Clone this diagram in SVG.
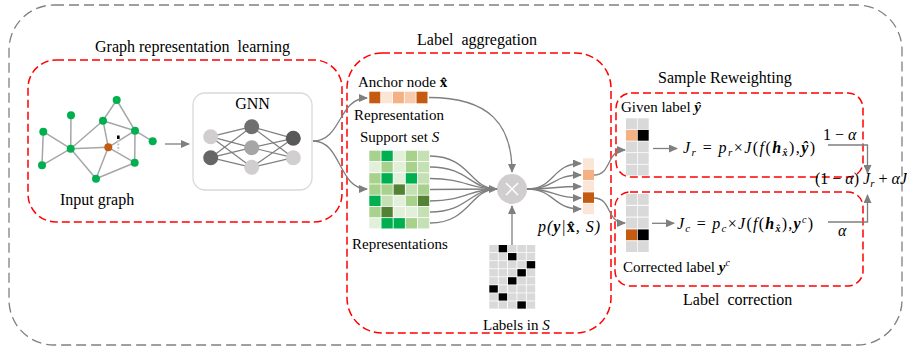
<svg xmlns="http://www.w3.org/2000/svg" width="907" height="350" viewBox="0 0 907 350">
<defs>
<style>
text{font-family:"Liberation Serif","DejaVu Serif",serif;fill:#000}
.t16{font-size:16px}
.t15{font-size:15px}
.m{font-style:italic}
.b{font-weight:bold}
.red{fill:none;stroke:#ff0000;stroke-width:1.5;stroke-dasharray:8 4}
.outer{fill:none;stroke:#808080;stroke-width:1.3;stroke-dasharray:10 5}
.ge{stroke:#a6a6a6;stroke-width:1.5}
.gn{fill:#00b050}
.nn{stroke:#7f7f7f;stroke-width:1.2}
.c{fill:none;stroke:#7f7f7f;stroke-width:1.3}
.gc{fill:#d9d9d9}
</style>
<marker id="ah" markerUnits="userSpaceOnUse" markerWidth="9" markerHeight="8" refX="8" refY="4" orient="auto">
<path d="M0,0 L9,4 L0,8 z" fill="#7f7f7f"/>
</marker>
</defs>

<rect id="outer" class="outer" x="9" y="5" width="893" height="340" rx="45"/>

<g id="graph-box">
<rect class="red" x="28" y="60" width="314" height="162" rx="28"/>
<text class="t16" x="95" y="52" xml:space="preserve">Graph representation  learning</text>
</g>

<g id="input-graph">
<g class="ge">
<line x1="116.7" y1="100" x2="103" y2="120.7"/>
<line x1="116.7" y1="100" x2="135" y2="130.7"/>
<line x1="71" y1="115.3" x2="70.7" y2="148.7"/>
<line x1="43.3" y1="131.7" x2="70.7" y2="148.7"/>
<line x1="43.3" y1="131.7" x2="42" y2="165.3"/>
<line x1="42" y1="165.3" x2="70.7" y2="148.7"/>
<line x1="70.7" y1="148.7" x2="103" y2="120.7"/>
<line x1="70.7" y1="148.7" x2="108.3" y2="147.3"/>
<line x1="70.7" y1="148.7" x2="96" y2="178.7"/>
<line x1="103" y1="120.7" x2="108.3" y2="147.3"/>
<line x1="103" y1="120.7" x2="135" y2="130.7"/>
<line x1="108.3" y1="147.3" x2="135" y2="130.7"/>
<line x1="135" y1="130.7" x2="152.7" y2="141.3"/>
<line x1="135" y1="130.7" x2="134.7" y2="162.7"/>
<line x1="108.3" y1="147.3" x2="134.7" y2="162.7"/>
<line x1="108.3" y1="147.3" x2="96" y2="178.7"/>
<line x1="134.7" y1="162.7" x2="96" y2="178.7"/>
</g>
<line x1="118.3" y1="140" x2="118.3" y2="151" stroke="#c8c8c8" stroke-width="2" stroke-dasharray="2 1.5"/>
<rect x="117" y="135.5" width="2.6" height="3.5" fill="#000"/>
<circle class="gn" cx="116.7" cy="100" r="4"/>
<circle class="gn" cx="71" cy="115.3" r="4"/>
<circle class="gn" cx="103" cy="120.7" r="4"/>
<circle class="gn" cx="43.3" cy="131.7" r="4"/>
<circle class="gn" cx="135" cy="130.7" r="4"/>
<circle class="gn" cx="152.7" cy="141.3" r="4"/>
<circle class="gn" cx="70.7" cy="148.7" r="4"/>
<circle cx="108.3" cy="147.3" r="4" fill="#c55a11"/>
<circle class="gn" cx="42" cy="165.3" r="4"/>
<circle class="gn" cx="134.7" cy="162.7" r="4"/>
<circle class="gn" cx="96" cy="178.7" r="4"/>
<text class="t16" x="60" y="205">Input graph</text>
</g>

<g id="gnn">
<rect x="193" y="93" width="119" height="97" rx="12" fill="#fff" stroke="#d9d9d9" stroke-width="1.3"/>
<text class="t16" x="252.5" y="109" text-anchor="middle">GNN</text>
<g class="nn">
<line x1="210.7" y1="136.7" x2="251.7" y2="126.7"/>
<line x1="210.7" y1="136.7" x2="251.7" y2="147.7"/>
<line x1="210.7" y1="136.7" x2="251.7" y2="167.3"/>
<line x1="210.7" y1="157.7" x2="251.7" y2="126.7"/>
<line x1="210.7" y1="157.7" x2="251.7" y2="147.7"/>
<line x1="210.7" y1="157.7" x2="251.7" y2="167.3"/>
<line x1="251.7" y1="126.7" x2="293.3" y2="138.3"/>
<line x1="251.7" y1="126.7" x2="293.3" y2="157.7"/>
<line x1="251.7" y1="147.7" x2="293.3" y2="138.3"/>
<line x1="251.7" y1="147.7" x2="293.3" y2="157.7"/>
<line x1="251.7" y1="167.3" x2="293.3" y2="138.3"/>
<line x1="251.7" y1="167.3" x2="293.3" y2="157.7"/>
</g>
<circle cx="210.7" cy="136.7" r="7.5" fill="#d0cece"/>
<circle cx="210.7" cy="157.7" r="7.5" fill="#666666"/>
<circle cx="251.7" cy="126.7" r="7.5" fill="#6f6f6f"/>
<circle cx="251.7" cy="147.7" r="7.5" fill="#a6a6a6"/>
<circle cx="251.7" cy="167.3" r="7.5" fill="#d0cece"/>
<circle cx="293.3" cy="138.3" r="7.5" fill="#595959"/>
<circle cx="293.3" cy="157.7" r="7.5" fill="#d0cece"/>
</g>

<g id="aggregation-box">
<rect class="red" x="347" y="53" width="264" height="280" rx="35"/>
<text class="t16" x="417" y="45" xml:space="preserve">Label  aggregation</text>
</g>

<g id="anchor">
<text class="t15" x="358" y="87">Anchor node <tspan class="b">x̂</tspan></text>
<rect x="369.3" y="91.7" width="11" height="11.6" fill="#c55a11"/>
<rect x="381.1" y="91.7" width="11" height="11.6" fill="#fbe5d6"/>
<rect x="392.9" y="91.7" width="11" height="11.6" fill="#f4b183"/>
<rect x="404.7" y="91.7" width="11" height="11.6" fill="#f8cbad"/>
<rect x="416.5" y="91.7" width="11" height="11.6" fill="#c55a11"/>
<text class="t15" x="354" y="120">Representation</text>
</g>

<g id="support-set">
<text class="t15" x="360" y="142">Support set <tspan class="m">S</tspan></text>
<g>
<rect x="369.3" y="150.7" width="11.3" height="10.4" fill="#a9d18e"/>
<rect x="381.45" y="150.7" width="11.3" height="10.4" fill="#00b050"/>
<rect x="393.6" y="150.7" width="11.3" height="10.4" fill="#e2f0d9"/>
<rect x="405.75" y="150.7" width="11.3" height="10.4" fill="#a9d18e"/>
<rect x="417.9" y="150.7" width="11.3" height="10.4" fill="#c5e0b4"/>

<rect x="369.3" y="161.93" width="11.3" height="10.4" fill="#e2f0d9"/>
<rect x="381.45" y="161.93" width="11.3" height="10.4" fill="#a9d18e"/>
<rect x="393.6" y="161.93" width="11.3" height="10.4" fill="#e2f0d9"/>
<rect x="405.75" y="161.93" width="11.3" height="10.4" fill="#a9d18e"/>
<rect x="417.9" y="161.93" width="11.3" height="10.4" fill="#c5e0b4"/>

<rect x="369.3" y="173.16" width="11.3" height="10.4" fill="#a9d18e"/>
<rect x="381.45" y="173.16" width="11.3" height="10.4" fill="#00b050"/>
<rect x="393.6" y="173.16" width="11.3" height="10.4" fill="#e2f0d9"/>
<rect x="405.75" y="173.16" width="11.3" height="10.4" fill="#00b050"/>
<rect x="417.9" y="173.16" width="11.3" height="10.4" fill="#c5e0b4"/>

<rect x="369.3" y="184.39" width="11.3" height="10.4" fill="#a9d18e"/>
<rect x="381.45" y="184.39" width="11.3" height="10.4" fill="#a9d18e"/>
<rect x="393.6" y="184.39" width="11.3" height="10.4" fill="#548235"/>
<rect x="405.75" y="184.39" width="11.3" height="10.4" fill="#c5e0b4"/>
<rect x="417.9" y="184.39" width="11.3" height="10.4" fill="#a9d18e"/>

<rect x="369.3" y="195.62" width="11.3" height="10.4" fill="#00b050"/>
<rect x="381.45" y="195.62" width="11.3" height="10.4" fill="#c5e0b4"/>
<rect x="393.6" y="195.62" width="11.3" height="10.4" fill="#e2f0d9"/>
<rect x="405.75" y="195.62" width="11.3" height="10.4" fill="#a9d18e"/>
<rect x="417.9" y="195.62" width="11.3" height="10.4" fill="#548235"/>

<rect x="369.3" y="206.85" width="11.3" height="10.4" fill="#a9d18e"/>
<rect x="381.45" y="206.85" width="11.3" height="10.4" fill="#548235"/>
<rect x="393.6" y="206.85" width="11.3" height="10.4" fill="#e2f0d9"/>
<rect x="405.75" y="206.85" width="11.3" height="10.4" fill="#e2f0d9"/>
<rect x="417.9" y="206.85" width="11.3" height="10.4" fill="#c5e0b4"/>

<rect x="369.3" y="218.08" width="11.3" height="10.4" fill="#e2f0d9"/>
<rect x="381.45" y="218.08" width="11.3" height="10.4" fill="#00b050"/>
<rect x="393.6" y="218.08" width="11.3" height="10.4" fill="#00b050"/>
<rect x="405.75" y="218.08" width="11.3" height="10.4" fill="#a9d18e"/>
<rect x="417.9" y="218.08" width="11.3" height="10.4" fill="#c5e0b4"/>
</g>
<text class="t15" x="352" y="249">Representations</text>
</g>

<g id="multiply">
<circle cx="512" cy="189" r="15" fill="#d0cece"/>
<path d="M506,183 L518,195 M518,183 L506,195" stroke="#fff" stroke-width="1.5"/>
</g>

<g id="labels-in-s">
<g class="gc">
<rect x="489.3" y="245" width="8.5" height="7.3"/><rect x="498.65" y="245" width="8.5" height="7.3" fill="#000"/><rect x="508" y="245" width="8.5" height="7.3"/><rect x="517.35" y="245" width="8.5" height="7.3"/><rect x="526.7" y="245" width="8.5" height="7.3"/>
<rect x="489.3" y="253.05" width="8.5" height="7.3"/><rect x="498.65" y="253.05" width="8.5" height="7.3"/><rect x="508" y="253.05" width="8.5" height="7.3" fill="#000"/><rect x="517.35" y="253.05" width="8.5" height="7.3"/><rect x="526.7" y="253.05" width="8.5" height="7.3"/>
<rect x="489.3" y="261.1" width="8.5" height="7.3"/><rect x="498.65" y="261.1" width="8.5" height="7.3"/><rect x="508" y="261.1" width="8.5" height="7.3"/><rect x="517.35" y="261.1" width="8.5" height="7.3"/><rect x="526.7" y="261.1" width="8.5" height="7.3" fill="#000"/>
<rect x="489.3" y="269.15" width="8.5" height="7.3"/><rect x="498.65" y="269.15" width="8.5" height="7.3"/><rect x="508" y="269.15" width="8.5" height="7.3"/><rect x="517.35" y="269.15" width="8.5" height="7.3" fill="#000"/><rect x="526.7" y="269.15" width="8.5" height="7.3"/>
<rect x="489.3" y="277.2" width="8.5" height="7.3"/><rect x="498.65" y="277.2" width="8.5" height="7.3"/><rect x="508" y="277.2" width="8.5" height="7.3" fill="#000"/><rect x="517.35" y="277.2" width="8.5" height="7.3"/><rect x="526.7" y="277.2" width="8.5" height="7.3"/>
<rect x="489.3" y="285.25" width="8.5" height="7.3" fill="#000"/><rect x="498.65" y="285.25" width="8.5" height="7.3"/><rect x="508" y="285.25" width="8.5" height="7.3"/><rect x="517.35" y="285.25" width="8.5" height="7.3"/><rect x="526.7" y="285.25" width="8.5" height="7.3"/>
<rect x="489.3" y="293.3" width="8.5" height="7.3"/><rect x="498.65" y="293.3" width="8.5" height="7.3" fill="#000"/><rect x="508" y="293.3" width="8.5" height="7.3"/><rect x="517.35" y="293.3" width="8.5" height="7.3"/><rect x="526.7" y="293.3" width="8.5" height="7.3"/>
<rect x="489.3" y="301.35" width="8.5" height="7.3"/><rect x="498.65" y="301.35" width="8.5" height="7.3"/><rect x="508" y="301.35" width="8.5" height="7.3"/><rect x="517.35" y="301.35" width="8.5" height="7.3" fill="#000"/><rect x="526.7" y="301.35" width="8.5" height="7.3"/>
</g>
<text class="t15" x="483" y="330">Labels in <tspan class="m">S</tspan></text>
</g>

<g id="prob-output">
<rect x="583" y="158.3" width="11" height="10.5" fill="#fbe5d6"/>
<rect x="583" y="169.65" width="11" height="10.5" fill="#f4b183"/>
<rect x="583" y="181" width="11" height="10.5" fill="#fbe5d6"/>
<rect x="583" y="192.35" width="11" height="10.5" fill="#c55a11"/>
<rect x="583" y="203.7" width="11" height="10.5" fill="#fbe5d6"/>
<text class="t16 m" x="538" y="232" textLength="62" lengthAdjust="spacing">p(<tspan class="b">y</tspan>|<tspan class="b" font-style="normal">x̂</tspan>,  S)</text>
</g>

<g id="reweighting-box">
<rect class="red" x="616" y="93" width="247" height="84" rx="15"/>
<text class="t16" x="658" y="83">Sample Reweighting</text>
</g>

<g id="given-label">
<text class="t15" x="621" y="112">Given label <tspan class="b m">ŷ</tspan></text>
<g class="gc">
<rect x="626" y="118.3" width="11" height="10.8"/><rect x="637.7" y="118.3" width="11" height="10.8"/>
<rect x="626" y="129.9" width="11" height="10.8" fill="#f4b183"/><rect x="637.7" y="129.9" width="11" height="10.8" fill="#000"/>
<rect x="626" y="141.5" width="11" height="10.8"/><rect x="637.7" y="141.5" width="11" height="10.8"/>
<rect x="626" y="153.1" width="11" height="10.8"/><rect x="637.7" y="153.1" width="11" height="10.8"/>
<rect x="626" y="164.7" width="11" height="10.8"/><rect x="637.7" y="164.7" width="11" height="10.8"/>
</g>
<text class="t16 m" x="683" y="153" textLength="132" lengthAdjust="spacing"><tspan>J</tspan><tspan font-size="11" dy="3">r</tspan><tspan dy="-3" font-style="normal"> = </tspan>p<tspan font-size="11" dy="3">r</tspan><tspan dy="-3" font-style="normal">×</tspan>J<tspan font-style="normal">(</tspan>f<tspan font-style="normal">(</tspan><tspan class="b">h</tspan><tspan class="b" font-size="10" dy="3">x̂</tspan><tspan dy="-3" font-style="normal">),</tspan><tspan class="b">ŷ</tspan><tspan font-style="normal">)</tspan></text>
<text class="t16" x="823" y="140">1 − <tspan class="m">α</tspan></text>
</g>

<g id="correction-box">
<rect class="red" x="615" y="192" width="248" height="94" rx="15"/>
<text class="t16" x="683" y="305" xml:space="preserve">Label  correction</text>
</g>

<g id="corrected-label">
<g class="gc">
<rect x="626" y="194" width="11" height="10.8"/><rect x="637.7" y="194" width="11" height="10.8"/>
<rect x="626" y="205.8" width="11" height="10.8"/><rect x="637.7" y="205.8" width="11" height="10.8"/>
<rect x="626" y="217.6" width="11" height="10.8"/><rect x="637.7" y="217.6" width="11" height="10.8"/>
<rect x="626" y="229.4" width="11" height="10.8" fill="#c55a11"/><rect x="637.7" y="229.4" width="11" height="10.8" fill="#000"/>
<rect x="626" y="241.2" width="11" height="10.8"/><rect x="637.7" y="241.2" width="11" height="10.8"/>
</g>
<text class="t16 m" x="677" y="229" textLength="136" lengthAdjust="spacing"><tspan>J</tspan><tspan font-size="11" dy="3">c</tspan><tspan dy="-3" font-style="normal"> = </tspan>p<tspan font-size="11" dy="3">c</tspan><tspan dy="-3" font-style="normal">×</tspan>J<tspan font-style="normal">(</tspan>f<tspan font-style="normal">(</tspan><tspan class="b">h</tspan><tspan class="b" font-size="10" dy="3">x̂</tspan><tspan dy="-3" font-style="normal">),</tspan><tspan class="b">y</tspan><tspan font-size="10" dy="-6">c</tspan><tspan dy="6" font-style="normal">)</tspan></text>
<text class="t15" x="623" y="272">Corrected label <tspan class="b m">y</tspan><tspan class="m" font-size="10" dy="-6">c</tspan></text>
<text class="t16 m" x="838" y="236">α</text>
</g>

<g id="combined-loss">
<text class="t16" x="815" y="184">(1 − <tspan class="m">α</tspan>) <tspan class="m">J</tspan><tspan class="m" font-size="11" dy="3">r</tspan><tspan dy="-3"> + </tspan><tspan class="m">αJ</tspan></text>
</g>

<g id="connectors">
<path class="c" d="M165,144 L189,144" marker-end="url(#ah)"/>
<path class="c" d="M313,141 C342,141 338,98 367,98" marker-end="url(#ah)"/>
<path class="c" d="M313,141 C342,141 338,189 367,189" marker-end="url(#ah)"/>
<path class="c" d="M429,97.5 C490,97.5 512,125 512,172" marker-end="url(#ah)"/>
<path class="c" d="M430,156 C470,156 470,189 497,189"/>
<path class="c" d="M430,167 C468,167 470,189 497,189"/>
<path class="c" d="M430,178.5 C465,178.5 470,189 497,189"/>
<path class="c" d="M430,189.5 L497,189" marker-end="url(#ah)"/>
<path class="c" d="M430,201 C465,201 470,189 497,189"/>
<path class="c" d="M430,212 C468,212 470,189 497,189"/>
<path class="c" d="M430,223 C470,223 470,189 497,189"/>
<path class="c" d="M512,245 L512,206" marker-end="url(#ah)"/>
<path class="c" d="M527,189 C555,189 552,163.5 581,163.5" marker-end="url(#ah)"/>
<path class="c" d="M527,189 C555,189 552,175 581,175" stroke-width="2.4" marker-end="url(#ah)"/>
<path class="c" d="M527,189 C555,189 552,186.5 581,186.5" stroke-width="1.8" marker-end="url(#ah)"/>
<path class="c" d="M527,189 C555,189 552,198 581,198" stroke-width="2.4" marker-end="url(#ah)"/>
<path class="c" d="M527,189 C555,189 552,209 581,209" marker-end="url(#ah)"/>
<path class="c" d="M594,175 C612,175 606,150 625,150" marker-end="url(#ah)"/>
<path class="c" d="M594,198 C612,198 606,223 625,223" marker-end="url(#ah)"/>
<path class="c" d="M653,148.5 L677,148.5" marker-end="url(#ah)"/>
<path class="c" d="M652,223.3 L674,223.3" marker-end="url(#ah)"/>
<path class="c" d="M828,145 H867.5 V173" marker-end="url(#ah)"/>
<path class="c" d="M828,222 H867.5 V195" marker-end="url(#ah)"/>
</g>
</svg>
